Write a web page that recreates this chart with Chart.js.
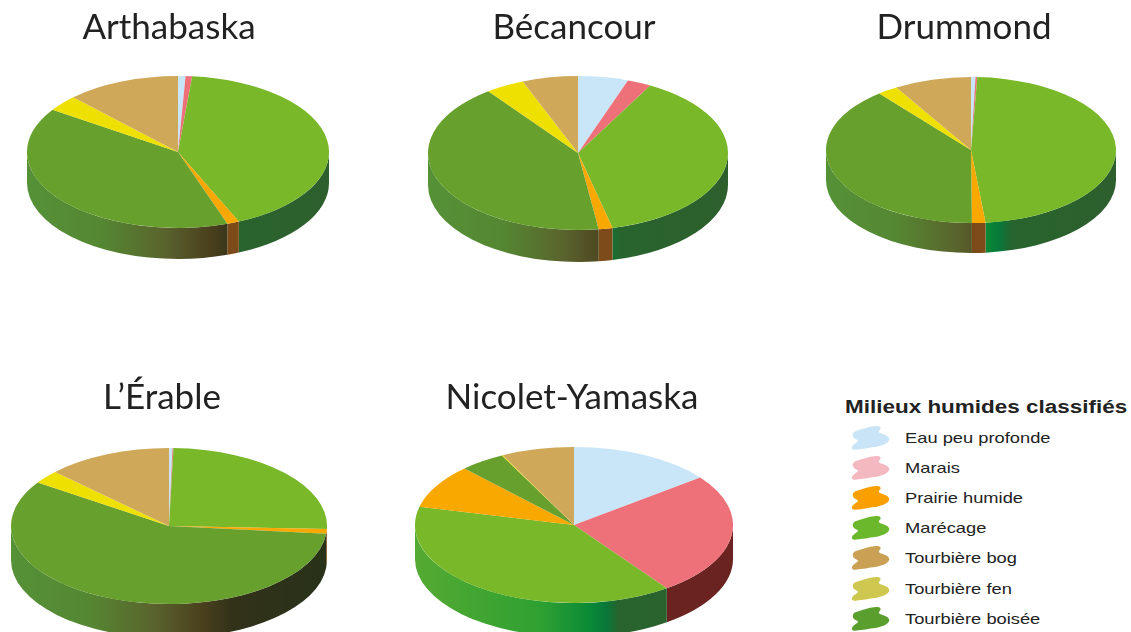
<!DOCTYPE html>
<html lang="fr">
<head>
<meta charset="utf-8">
<title>Milieux humides classifiés</title>
<script src="https://cdn.jsdelivr.net/npm/chart.js@4/dist/chart.umd.min.js"></script>
<style>
    html, body { margin: 0; padding: 0; background: #fff; width: 1131px; height: 632px; overflow: hidden; }
    canvas { position: absolute; }
    .titre { position: absolute; font-family: Lato, sans-serif; font-size: 35px; line-height: 40px; color: #222; white-space: nowrap; transform: translateX(-50%); }
    .legende { position: absolute; font-family: "Liberation Sans", sans-serif; color: #222; white-space: nowrap; transform-origin: left center; }
    svg { position: absolute; }
</style>
</head>
<body>
<script>
// order of the slices, clockwise from the top
const categories = ["Eau peu profonde", "Marais", "Marécage", "Prairie humide", "Tourbière boisée", "Tourbière fen", "Tourbière bog"];
const colors = ["#c8e6f8", "#ee717a", "#78b829", "#f9a800", "#68a02e", "#eee000", "#cfa85a"];

const arthabaska = [0.8, 0.7, 41.9, 1.3, 39.7, 3.4, 12.2];
const becancour = [5.4, 2.6, 38.3, 1.5, 42.0, 4.2, 6.0];
const drummond = [0.5, 0.2, 47.7, 1.5, 39.2, 2.3, 8.6];
const erable = [0.35, 0.1, 25.15, 1.0, 57.8, 2.8, 12.8];
const nicolet = [14.6, 25.5, 38.7, 9.15, 4.6, 0.1, 7.4];

const legendTitle = "Milieux humides classifiés";
const legendLabels = ["Eau peu profonde", "Marais", "Prairie humide", "Marécage", "Tourbière bog", "Tourbière fen", "Tourbière boisée"];
const legendColors = ["#c8e4f6", "#f4b8c0", "#f9a000", "#6cb82c", "#c9a054", "#cfc850", "#5a9e2e"];

const pies = [
    { title: "Arthabaska", titleX: 169, titleY: 5, values: arthabaska, cx: 178, cy: 152, rx: 151, ry: 76, depth: 31 },
    { title: "Bécancour", titleX: 574, titleY: 5, values: becancour, cx: 578, cy: 153, rx: 150, ry: 77, depth: 32 },
    { title: "Drummond", titleX: 964, titleY: 5, values: drummond, cx: 971, cy: 150, rx: 145, ry: 73, depth: 30 },
    { title: "L’Érable", titleX: 162, titleY: 375, values: erable, cx: 169, cy: 526, rx: 158, ry: 78, depth: 34 },
    { title: "Nicolet-Yamaska", titleX: 572, titleY: 375, values: nicolet, cx: 574, cy: 525, rx: 159, ry: 78, depth: 34 },
];

// side wall colours along the width of the pie, per slice index
const wallStops = {
    0: [[0, "#a8c8dc"], [1, "#7a9cb0"]],
    1: [[0, "#6d2420"], [1, "#6a2320"]],
    2: [[0, "#55aa32"], [0.4, "#2ea032"], [0.55, "#0a8a36"], [0.6, "#08783a"], [0.64, "#28642d"], [1, "#2d5f2d"]],
    3: [[0, "#7d4b19"], [1, "#7d4b19"]],
    4: [[0, "#559137"], [0.25, "#558732"], [0.45, "#5a642d"], [0.6, "#4b411e"], [0.7, "#323219"], [1, "#283219"]],
    5: [[0, "#b0a800"], [1, "#b0a800"]],
    6: [[0, "#9a7c40"], [1, "#9a7c40"]],
};

// squashes the pie drawn by Chart.js and adds the wall under it
const tiltPlugin = {
    id: "tilt",
    beforeDatasetsDraw(chart, args, opts) {
        const ctx = chart.ctx;
        const k = opts.ry / opts.rx;
        const arcs = chart.getDatasetMeta(0).data;
        const cy = chart.height / 2;

        ctx.save();
        ctx.translate(0, cy);
        ctx.scale(1, k);
        ctx.translate(0, -cy);
        arcs.forEach((arc, i) => {
            const p = arc.getProps(["x", "y", "startAngle", "endAngle", "outerRadius"], true);
            const a0 = Math.max(p.startAngle, 0);
            const a1 = Math.min(p.endAngle, Math.PI);
            if (a1 <= a0) return;
            const grad = ctx.createLinearGradient(p.x - p.outerRadius, 0, p.x + p.outerRadius, 0);
            wallStops[i].forEach(s => grad.addColorStop(s[0], s[1]));
            ctx.fillStyle = grad;
            ctx.beginPath();
            ctx.arc(p.x, p.y, p.outerRadius, a0, a1);
            ctx.arc(p.x, p.y + opts.depth / k, p.outerRadius, a1, a0, true);
            ctx.closePath();
            ctx.fill();
        });
        ctx.restore();

        ctx.save();
        ctx.translate(0, cy);
        ctx.scale(1, k);
        ctx.translate(0, -cy);
    },
    afterDatasetsDraw(chart) {
        chart.ctx.restore();
    },
};

function drawPie(pie) {
    const canvas = document.createElement("canvas");
    canvas.width = pie.rx * 2;
    canvas.height = pie.rx * 2;
    canvas.style.left = (pie.cx - pie.rx) + "px";
    canvas.style.top = (pie.cy - pie.rx) + "px";
    document.body.appendChild(canvas);

    new Chart(canvas.getContext("2d"), {
        type: "pie",
        data: {
            labels: categories,
            datasets: [{ data: pie.values, backgroundColor: colors, borderWidth: 0 }],
        },
        options: {
            responsive: false,
            animation: false,
            events: [],
            layout: { padding: 0 },
            plugins: {
                legend: { display: false },
                tooltip: { enabled: false },
                tilt: { rx: pie.rx, ry: pie.ry, depth: pie.depth },
            },
        },
        plugins: [tiltPlugin],
    });

    const title = document.createElement("div");
    title.className = "titre";
    title.textContent = pie.title;
    title.style.left = pie.titleX + "px";
    title.style.top = pie.titleY + "px";
    document.body.appendChild(title);
}

function drawLegend() {
    const head = document.createElement("div");
    head.className = "legende";
    head.textContent = legendTitle;
    head.style.cssText = "left:845px;top:396px;font-size:18px;line-height:22px;font-weight:bold;transform:scaleX(1.248);";
    document.body.appendChild(head);

    const blob = "M12 16 C30 10 50 2 75 0 C88 -1 92 6 86 12 C80 18 84 22 97 25 C110 29 118 36 114 44 C108 56 85 62 65 65 C45 68 20 73 8 72 C-2 71 0 60 10 54 C20 48 24 44 14 40 C2 35 0 22 12 16 Z";
    legendLabels.forEach((label, i) => {
        const y = 438 + i * 30.1;
        const svg = document.createElementNS("http://www.w3.org/2000/svg", "svg");
        svg.setAttribute("viewBox", "0 0 116 73");
        svg.setAttribute("width", "39");
        svg.setAttribute("height", "24");
        svg.style.left = "851px";
        svg.style.top = (y - 12) + "px";
        const path = document.createElementNS("http://www.w3.org/2000/svg", "path");
        path.setAttribute("d", blob);
        path.setAttribute("fill", legendColors[i]);
        svg.appendChild(path);
        document.body.appendChild(svg);

        const text = document.createElement("div");
        text.className = "legende";
        text.textContent = label;
        text.style.cssText = "left:905px;top:" + (y - 10) + "px;font-size:15px;line-height:20px;transform:scaleX(1.22);";
        document.body.appendChild(text);
    });
}

pies.forEach(drawPie);
drawLegend();
</script>
</body>
</html>
